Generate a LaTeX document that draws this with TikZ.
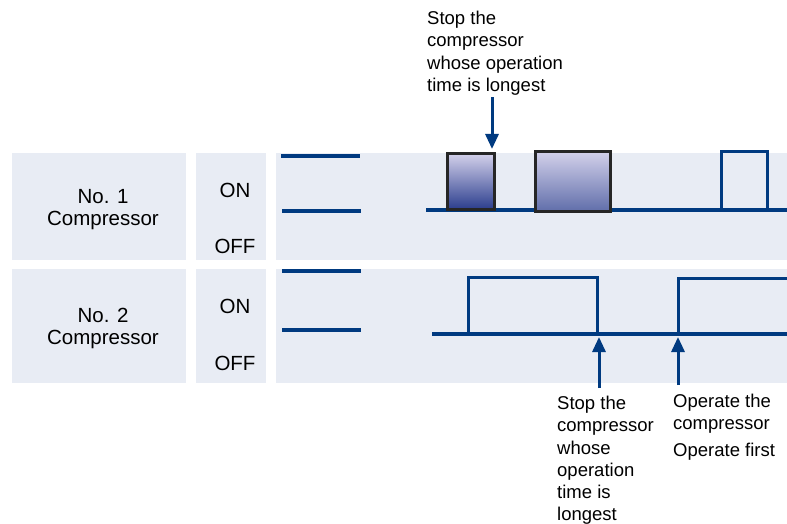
\documentclass[tikz,border=0pt]{standalone}
\usepackage{fontspec}
\setmainfont{Liberation Sans}
\usetikzlibrary{positioning, arrows.meta}

\definecolor{lineblue}{HTML}{003A80}
\definecolor{panelgray}{HTML}{E8ECF4}
\definecolor{boxlight}{HTML}{D2D0EA}
\definecolor{boxdark}{HTML}{2C3E8E}

\tikzset{
  panel/.style={fill=panelgray, draw=none},
  signal/.style={draw=lineblue, line width=3.5pt},
  pulse/.style={draw=lineblue, line width=3pt},
  label/.style={font=\fontsize{20.5}{22}\selectfont, align=center, inner sep=0pt},
  note/.style={font=\fontsize{18.5}{22.2}\selectfont, align=left, anchor=north west, inner sep=0pt},
  pointer/.style={draw=lineblue, line width=3pt, -{Triangle[length=15pt,width=13pt]}},
  runbox/.style={draw=black!85, line width=3pt}
}

\begin{document}
\begin{tikzpicture}[x=1pt, y=-1pt]
    \useasboundingbox (0,0) rectangle (787,524);

    % Panels
    \fill[panel] (12,153) rectangle (186,260);
    \fill[panel] (196,153) rectangle (266,260);
    \fill[panel] (276,153) rectangle (787,260);
    \fill[panel] (12,269) rectangle (186,383);
    \fill[panel] (196,269) rectangle (266,383);
    \fill[panel] (276,269) rectangle (787,383);

    % Row labels
    \node[label] (no1) at (103,210) {No. 1\\Compressor};
    \node[label] (on1) at (235,190) {ON};
    \node[label] (off1) at (235,246) {OFF};
    \node[label] (no2) at (103,328) {No. 2\\Compressor};
    \node[label] (on2) at (235,306) {ON};
    \node[label] (off2) at (235,363) {OFF};

    % Level marks
    \draw[signal] (281,156) -- (360,156);
    \draw[signal] (282,211) -- (361,211);
    \draw[signal] (282,271) -- (361,271);
    \draw[signal] (282,330) -- (361,330);

    % No. 1 signal
    \draw[signal] (426,210) -- (787,210);
    \shade[top color=boxlight, bottom color=boxdark] (447,154) rectangle (494,209);
    \draw[runbox] (447,154) rectangle (494,209);
    \shade[top color=boxlight, bottom color=boxdark!75] (535,152) rectangle (610,211);
    \draw[runbox] (535,152) rectangle (610,211);
    \draw[pulse] (721,210) -- (721,152) -- (767,152) -- (767,210);

    % No. 2 signal
    \draw[signal] (432,334) -- (787,334);
    \draw[pulse] (468,334) -- (468,277) -- (597,277) -- (597,334);
    \draw[pulse] (678,334) -- (678,278) -- (787,278);

    % Notes
    \node[note] (stoptop) at (427,11) {Stop the\\compressor\\whose operation\\time is longest};
    \node[note] (stopbot) at (557,396) {Stop the\\compressor\\whose\\operation\\time is\\longest};
    \node[note] (opbot) at (673,394) {Operate the\\compressor\\[4pt]Operate first};

    % Pointers
    \coordinate (stoptip) at (492,149);
    \coordinate (stopend) at (599,337);
    \coordinate (opend) at (678,337);
    \draw[pointer] (stoptop.south -| stoptip) ++(0,2) -- (stoptip);
    \draw[pointer] (stopbot.north -| stopend) ++(0,-8) -- (stopend);
    \draw[pointer] (opbot.north -| opend) ++(0,-9) -- (opend);
\end{tikzpicture}
\end{document}
